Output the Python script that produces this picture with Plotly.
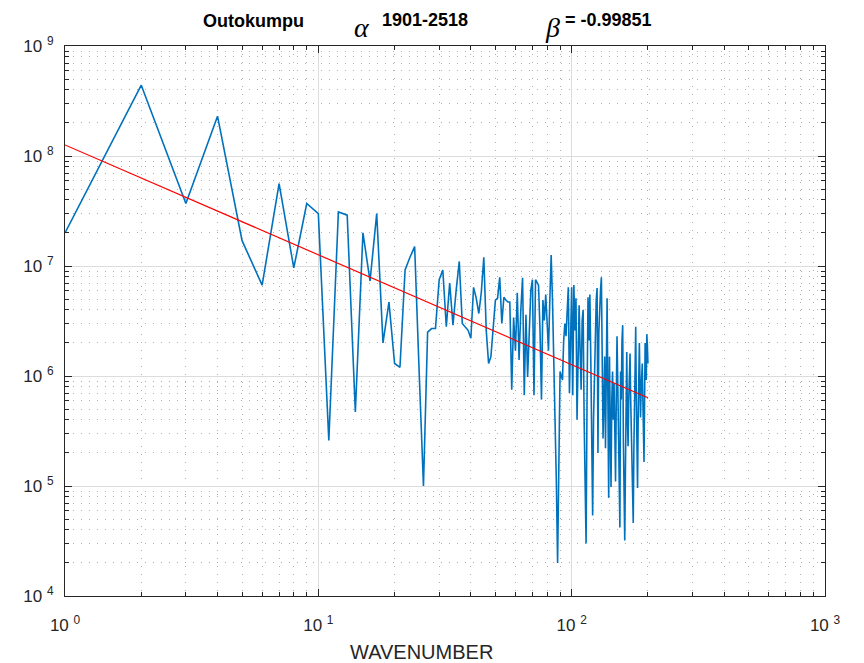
import plotly.graph_objects as go

# ---- data ----
wavenumber = list(range(1, 201))
power = [
    2.0e7, 4.4e8, 3.7e7, 2.3e8, 1.7e7, 6.7e6, 5.6e7, 9.6e6, 3.7e7, 3.0e7,
    2.6e5, 3.1e7, 2.9e7, 4.7e5, 2.0e7, 7.3e6, 3.0e7, 2.0e6, 4.7e6, 1.3e6,
    1.2e6, 9.2e6, 1.2e7, 1.5e7, 1.1e6, 1.0e5, 2.5e6, 2.7e6, 2.7e6, 7.5e6,
    9.2e6, 2.8e6, 7.0e6, 2.9e6, 6.0e6, 1.1e7, 3.0e6, 2.8e6, 2.6e6, 2.2e6,
    6.4e6, 5.1e6, 3.7e6, 5.8e6, 1.2e7, 2.6e6, 1.3e6, 1.5e6, 2.6e6, 4.9e6,
    5.1e6, 7.9e6, 3.0e6, 5.2e6, 4.9e6, 4.7e6, 4.7e6, 7.5e5, 3.4e6, 1.7e6,
    5.7e6, 1.4e6, 4.0e6, 7.8e6, 6.7e5, 3.6e6, 9.8e5, 2.6e6, 6.0e6, 7.5e6,
    6.7e5, 7.5e6, 7.0e6, 6.7e6, 2.6e6, 6.1e5, 4.9e6, 3.2e6, 5.5e6, 3.2e6,
    1.7e6, 4.9e6, 1.26e7, 4.9e6, 1.6e6, 6.1e5, 1.1e5, 2.0e4, 3.2e5, 1.1e6,
    1.0e6, 9.2e5, 2.1e6, 3.0e6, 2.3e6, 4.9e6, 6.4e6, 7.0e5, 2.6e6, 6.4e6,
    6.7e5, 6.7e6, 2.6e6, 5.1e6, 4.0e5, 1.4e6, 4.4e6, 1.7e6, 7.5e5, 3.2e6,
    4.0e6, 4.0e5, 7.5e4, 3.0e4, 6.1e5, 5.2e6, 2.1e6, 5.5e6, 1.4e6, 2.6e5,
    5.4e4, 4.0e5, 1.1e6, 2.1e6, 4.9e6, 6.3e6, 2.0e5, 2.5e6, 4.9e6, 6.0e6,
    7.9e6, 1.4e6, 2.7e5, 6.1e5, 1.5e6, 2.2e5, 9.2e5, 5.1e6, 6.1e5, 7.8e4,
    1.5e6, 4.0e5, 9.8e4, 6.1e5, 1.1e6, 4.0e5, 8.6e5, 3.2e5, 1.1e5, 6.1e5,
    2.3e6, 9.2e5, 3.2e5, 1.1e5, 4.2e4, 1.1e6, 6.1e5, 2.1e6, 2.9e6, 2.6e5,
    7.5e4, 3.2e4, 1.4e5, 6.1e5, 1.65e6, 4.0e5, 2.3e5, 6.1e5, 9.2e5, 1.6e6,
    6.1e5, 3.2e5, 1.4e5, 9.2e4, 4.6e4, 2.1e5, 7.0e5, 1.4e6, 2.8e6, 6.1e5,
    2.1e5, 9.6e4, 4.0e5, 1.1e6, 2.0e6, 9.2e5, 4.2e5, 7.5e5, 1.1e6, 1.3e6,
    6.1e5, 2.6e5, 1.65e5, 6.1e5, 2.0e6, 1.4e6, 9.2e5, 2.4e6, 1.9e6, 1.3e6,
]

fit_intercept = 1.26e8
beta = -0.99851
fit_x = [1, 200]
fit_y = [fit_intercept * x ** beta for x in fit_x]

x_major = [1, 10, 100, 1000]
x_major_text = ["10 <sup>0</sup>", "10 <sup>1</sup>", "10 <sup>2</sup>", "10 <sup>3</sup>"]
y_major = [1e4, 1e5, 1e6, 1e7, 1e8, 1e9]
y_major_text = ["10 <sup>4</sup>", "10 <sup>5</sup>", "10 <sup>6</sup>", "10 <sup>7</sup>",
                "10 <sup>8</sup>", "10 <sup>9</sup>"]

x_minor = [m * 10 ** d for d in range(0, 3) for m in range(2, 10)]
y_minor = [m * 10 ** d for d in range(4, 9) for m in range(2, 10)]

FONT = "Liberation Sans, Arial, Helvetica, sans-serif"
SERIF = "Liberation Serif, Times New Roman, DejaVu Serif, serif"
AX = "#262626"

fig = go.Figure()
fig.add_trace(go.Scatter(x=wavenumber, y=power, mode="lines",
                         line=dict(color="#0072BD", width=1.6), showlegend=False))
fig.add_trace(go.Scatter(x=fit_x, y=fit_y, mode="lines",
                         line=dict(color="#FF0000", width=1.2), showlegend=False))

axis_common = dict(
    type="log", showline=True, linecolor=AX, linewidth=1, mirror="allticks",
    ticks="inside", ticklen=7, tickcolor=AX, tickwidth=1,
    showgrid=True, gridcolor="#dcdcdc", gridwidth=1.3, zeroline=False,
    tickfont=dict(family=FONT, size=17, color=AX),
)

minor_common = dict(ticks="inside", ticklen=4, tickcolor=AX, tickwidth=1,
                    showgrid=True, gridcolor="#b0b0b0", griddash="1px,7px", gridwidth=1)

fig.update_xaxes(
    **axis_common, range=[0, 3], tickvals=x_major, ticktext=x_major_text,
    ticklabelstandoff=14,
    minor=dict(tickvals=x_minor, **minor_common),
)
fig.update_yaxes(
    **axis_common, range=[4, 9], tickvals=y_major, ticktext=y_major_text,
    ticklabelstandoff=7,
    minor=dict(tickvals=y_minor, **minor_common),
)

def ann(text, px, py, size, family=FONT, color="#000000"):
    fig.add_annotation(
        text=text,
        x=(px - 65) / 760, y=(596 - py) / 550, xref="paper", yref="paper",
        showarrow=False, xanchor="center", yanchor="middle",
        font=dict(family=family, size=size, color=color),
    )

ann("<b>Outokumpu</b>", 253, 21, 18)
ann("<i>α</i>", 362, 27, 28, family=SERIF)
ann("<b>1901-2518</b>", 425, 20, 18)
ann("<i>β</i>", 552, 27, 28, family=SERIF)
ann("<b>= -0.99851</b>", 608, 20, 18)
ann("WAVENUMBER", 421, 652, 20, color=AX)

# page body has an 8px default margin; margins below compensate for it
fig.update_layout(
    width=864, height=663,
    margin=dict(l=57, r=47, t=38, b=75, autoexpand=False),
    paper_bgcolor="white", plot_bgcolor="white",
    showlegend=False,
)

fig.write_html("out.html")
